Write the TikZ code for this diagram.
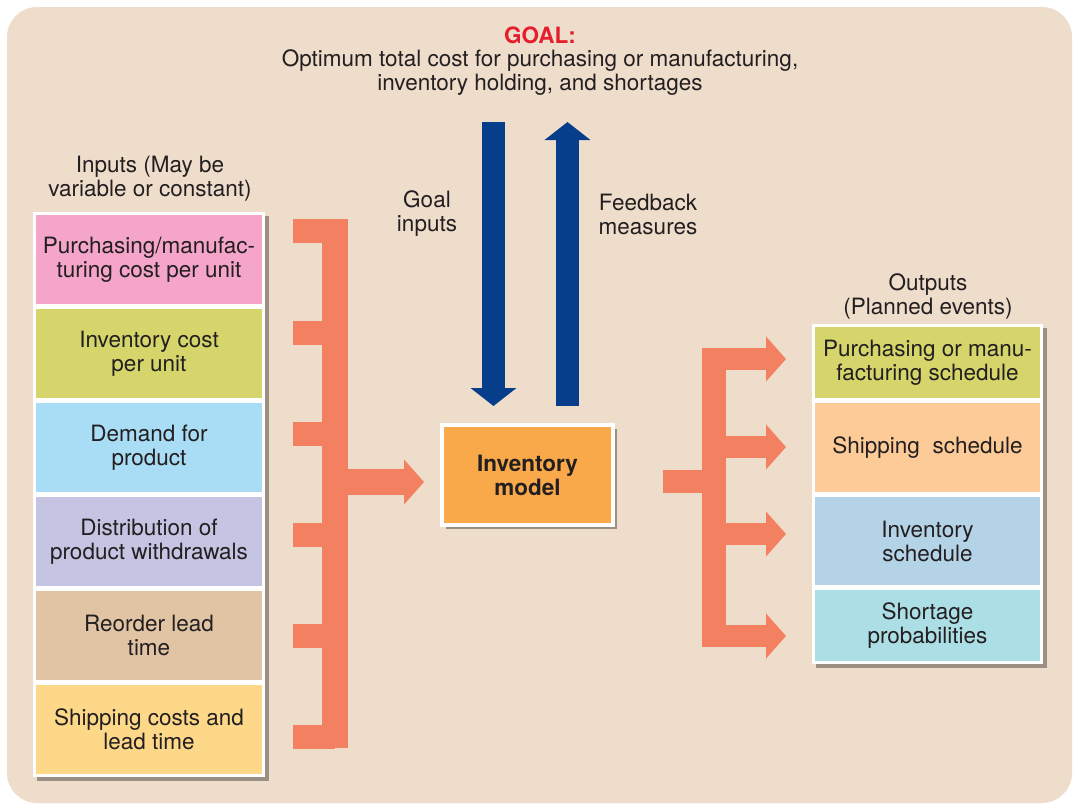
\documentclass[tikz,border=0pt]{standalone}
\usepackage{fontspec}
\setmainfont{TeX Gyre Heros}
\usetikzlibrary{arrows.meta,positioning,fit,shadows}
\usepackage{xcolor}

\definecolor{paper}{RGB}{239,221,203}
\definecolor{ink}{RGB}{35,31,32}
\definecolor{salmon}{RGB}{244,128,98}
\definecolor{navy}{RGB}{6,62,140}
\definecolor{goalred}{RGB}{228,30,44}
\definecolor{pinkbox}{RGB}{244,165,201}
\definecolor{olivebox}{RGB}{213,213,107}
\definecolor{skybox}{RGB}{168,221,245}
\definecolor{lavbox}{RGB}{197,196,227}
\definecolor{tanbox}{RGB}{224,196,164}
\definecolor{yellowbox}{RGB}{254,216,137}
\definecolor{modelorange}{RGB}{249,168,74}
\definecolor{peachbox}{RGB}{253,203,152}
\definecolor{steelbox}{RGB}{180,211,230}
\definecolor{aquabox}{RGB}{172,222,229}

\pgfdeclarelayer{paperlayer}
\pgfdeclarelayer{framelayer}
\pgfsetlayers{paperlayer,framelayer,main}

\begin{document}
\begin{tikzpicture}[
    x=1pt, y=-1pt,
    node distance=5pt,
    every node/.style={font=\fontsize{22.5}{24}\selectfont, text=ink},
    inbox/.style={rectangle, minimum width=226pt, minimum height=89pt,
                  inner sep=0pt, outer sep=0pt, align=center},
    outbox/.style={rectangle, minimum width=225pt, inner sep=0pt,
                   outer sep=0pt, align=center},
    frame/.style={rectangle, fill=white, inner sep=3pt,
                  drop shadow={shadow xshift=4pt, shadow yshift=-4pt,
                               fill=black, opacity=0.35}},
    modelbox/.style={rectangle, fill=modelorange, draw=white, line width=4pt,
                     minimum width=171pt, minimum height=100pt, align=center,
                     font=\fontsize{22.5}{24}\selectfont\bfseries,
                     drop shadow={shadow xshift=4pt, shadow yshift=-4pt,
                                  fill=black, opacity=0.35}},
    label/.style={align=center},
    salmonbar/.style={draw=salmon, line cap=butt},
    salmonarrow/.style={draw=salmon, -{Triangle[length=20pt, width=44pt]}},
    navyarrow/.style={draw=navy, line width=23pt,
                      -{Triangle[length=18pt, width=45pt]}}
]
\useasboundingbox (0,0) rectangle (1074,807);

%% ---- Hintergrund ----
\begin{pgfonlayer}{paperlayer}
  \fill[white] (0,0) rectangle (1074,807);
  \fill[paper, rounded corners=30pt] (7,7) rectangle (1072,803);
\end{pgfonlayer}

%% ---- Ziel ----
\node[font=\fontsize{22.5}{24}\selectfont\bfseries, text=goalred] (goalhead) at (540,35) {GOAL:};
\node[label] (goal) at (540,72.5) {Optimum total cost for purchasing or manufacturing,\\inventory holding, and shortages};

%% ---- Eingaben ----
\node[label] (inhead) at (150,179) {Inputs (May be\\variable or constant)};
\node[inbox, fill=pinkbox]                 (in1) at (149,259.5) {Purchasing/manufac-\\turing cost per unit};
\node[inbox, fill=olivebox,  below=of in1] (in2) {Inventory cost\\per unit};
\node[inbox, fill=skybox,    below=of in2] (in3) {Demand for\\product};
\node[inbox, fill=lavbox,    below=of in3] (in4) {Distribution of\\product withdrawals};
\node[inbox, fill=tanbox,    below=of in4] (in5) {Reorder lead\\time};
\node[inbox, fill=yellowbox, below=of in5] (in6) {Shipping costs and\\lead time};

%% ---- Modell ----
\node[modelbox] (model) at (527.5,475) {Inventory\\model};
\node[label] (goalin) at (427,214) {Goal\\inputs};
\node[label] (feedback) at (648,214) {Feedback\\measures};

%% ---- Ausgaben ----
\node[label] (outhead) at (928,296) {Outputs\\(Planned events)};
\node[outbox, fill=olivebox, minimum height=71pt]               (out1) at (927.5,362.5) {Purchasing or manu-\\facturing schedule};
\node[outbox, fill=peachbox, minimum height=89pt, below=of out1] (out2) {Shipping\ \ schedule};
\node[outbox, fill=steelbox, minimum height=88pt, below=of out2] (out3) {Inventory\\schedule};
\node[outbox, fill=aquabox,  minimum height=71pt, below=of out3] (out4) {Shortage\\probabilities};

\begin{pgfonlayer}{framelayer}
  \node[frame, fit=(in1)(in6)]   (inframe)  {};
  \node[frame, fit=(out1)(out4)] (outframe) {};
\end{pgfonlayer}

%% ---- Klammer links ----
\draw[salmonbar, line width=26pt] (335,219) -- (335,748);
\foreach \y in {231,333,434,535,636,737}
  \draw[salmonbar, line width=24pt] (293,\y) -- (335,\y);
\coordinate (ljoin) at (348,482);
\draw[salmonarrow, line width=26pt, shorten >=16pt] (ljoin) -- (model.west |- ljoin);

%% ---- Klammer rechts ----
\coordinate (rjoin) at (663,481.5);
\draw[salmonbar, line width=23pt] (rjoin) -- (714,481.5);
\draw[salmonbar, line width=24pt] (714,348) -- (714,647);
\foreach \y/\n in {359/1,447/2,534/3,636/4}
  \draw[salmonarrow, line width=22pt, shorten >=29pt] (714,\y) -- (out\n.west |- 0,\y);

%% ---- Ziel / Rueckmeldung ----
\coordinate (gtop) at (493.5,122);
\coordinate (ftop) at (567.5,122);
\draw[navyarrow, shorten >=17pt] (gtop) -- (gtop |- model.north);
\draw[navyarrow, shorten <=17pt] (ftop |- model.north) -- (ftop);

\end{tikzpicture}
\end{document}
